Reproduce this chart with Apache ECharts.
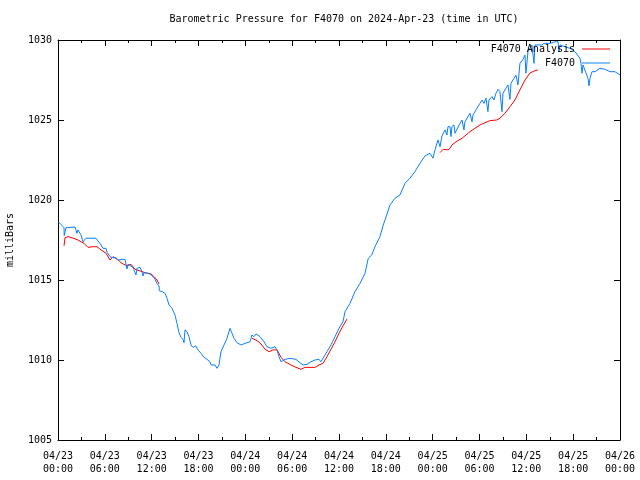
<!DOCTYPE html>
<html><head><meta charset="utf-8">
<script src="https://cdn.jsdelivr.net/npm/echarts@6/dist/echarts.min.js"></script>
<style>html,body{margin:0;padding:0;background:#fff}#c{width:640px;height:480px}</style>
</head><body><div id="c"></div>
<script>
// Hours since 2024-04-23 00:00 UTC
const stationHours = [0,0.26,0.77,0.8,1.02,2.18,2.43,2.56,2.95,3.2,3.59,4.87,5.12,5.51,5.76,6.15,6.28,6.66,7.05,7.43,7.69,8.2,8.58,8.84,8.97,9.22,
9.61,9.86,9.99,10.12,10.5,10.76,10.89,11.02,11.4,11.79,12.17,12.43,12.68,12.94,12.98,13.2,13.36,13.71,13.96,14.22,14.6,14.99,15.24,15.5,15.76,16.01,16.14,16.27,16.53,16.78,17.04,17.29,17.64,17.93,18.32,18.7,19.09,19.47,19.6,20.11,20.37,20.63,20.75,
20.88,21.27,21.65,22.03,22.29,22.55,22.93,23.44,23.96,24.6,24.85,25.11,25.37,25.88,26.39,26.77,27.29,27.8,28.06,28.31,28.57,28.82,29.08,29.72,30.49,31.0,31.39,31.9,32.41,32.92,33.44,33.69,33.95,34.46,34.97,35.49,36.0,36.51,
36.77,37.41,38.05,38.69,39.33,39.75,40.19,40.61,41.25,41.67,42.11,42.53,43.17,43.81,44.45,45.09,45.73,46.37,47.01,47.66,47.87,48.04,48.3,48.68,48.94,49.19,49.58,49.83,49.96,50.22,50.35,50.47,50.73,50.86,51.07,51.5,51.76,52.01,52.14,52.52,52.78,53.04,53.16,53.55,54.06,54.32,54.57,54.83,55.08,55.21,55.6,55.85,56.11,56.37,56.62,56.88,57.01,57.39,57.65,57.9,58.03,58.42,58.67,58.93,59.18,59.57,59.83,59.95,60.21,60.72,60.98,61.11,62.0,62.26,63.03,63.67,64.06,64.18,64.31,64.95,65.59,66.23,66.87,67.0,67.13,67.26,67.51,67.9,68.03,68.16,68.41,68.8,69.43,70.07,70.71,71.35,72.0];
const stationPressure = [1018.63,1018.54,1018.27,1017.77,1018.27,1018.31,1017.92,1018.13,1017.81,1017.39,1017.61,1017.61,1017.44,1017.19,1016.98,1016.98,1016.73,1016.46,1016.39,1016.39,1016.25,1016.29,1016.29,1015.69,1015.98,1015.98,
1015.79,1015.73,1015.31,1015.73,1015.79,1015.52,1015.25,1015.46,1015.42,1015.38,1015.21,1015.04,1014.79,1014.63,1014.33,1014.42,1014.27,1014.17,1013.86,1013.44,1013.23,1012.81,1012.29,1011.71,1011.42,1011.29,1011.08,1011.88,1011.77,1011.46,1010.94,1010.79,1010.88,1010.63,1010.42,1010.17,1010.04,1009.89,1009.69,1009.69,1009.48,1009.69,1010.11,
1010.52,1010.94,1011.36,1011.98,1011.67,1011.36,1011.08,1010.94,1011.04,1011.14,1011.56,1011.46,1011.63,1011.46,1011.14,1010.83,1010.73,1010.83,1010.63,1010.21,1009.89,1009.79,1010.04,1010.11,1010.04,1009.83,1009.69,1009.73,1009.89,1010.0,1010.04,1009.89,1010.11,1010.52,1010.94,1011.46,1011.98,1012.39,
1013.02,1013.54,1014.27,1014.79,1015.42,1016.36,1016.56,1017.08,1017.71,1018.44,1019.06,1019.69,1020.11,1020.31,1021.04,1021.36,1021.77,1022.29,1022.75,1022.92,1023.02,1022.61,1023.13,1023.75,1023.33,1024.0,1024.38,1024.06,1024.58,1024.58,1023.96,1024.58,1024.69,1024.17,1024.38,1024.79,1025.0,1024.38,1024.89,1025.21,1025.42,1024.89,1025.31,1025.63,1026.04,1026.25,1026.04,1026.36,1025.52,1026.25,1026.46,1026.25,1026.67,1026.92,1026.77,1025.52,1026.67,1026.98,1027.19,1026.29,1027.29,1027.61,1027.81,1027.19,1028.54,1028.79,1029.06,1027.92,1029.27,1029.69,1028.54,1029.69,1029.69,1029.79,1029.79,1029.89,1029.89,1029.27,1029.69,1029.58,1029.48,1029.27,1028.86,1028.54,1027.92,1028.44,1028.54,1027.61,1027.13,1027.61,1028.02,1028.02,1028.23,1028.17,1028.02,1028.02,1027.81];

// Analysis runs (null = gap between runs)
const analysisHours = [0.77,0.9,1.28,1.79,2.56,3.33,3.84,4.48,5.0,5.51,6.15,6.66,7.05,7.69,8.2,8.84,9.35,9.86,11.15,11.91,12.3,12.68,12.94,
18.0,
24.85,25.5,26.01,26.52,27.03,27.54,28.06,28.31,28.57,29.08,29.85,30.49,31.13,31.64,32.41,32.92,33.44,33.95,34.46,34.97,35.49,36.0,36.51,37.02,
43.0,
48.94,49.36,49.96,50.22,50.47,50.99,51.76,52.27,52.78,53.42,54.06,54.7,55.34,56.2,56.62,57.26,57.9,58.54,59.18,59.83,60.47,61.11,61.49];
const analysisPressure = [1017.14,1017.64,1017.71,1017.64,1017.5,1017.29,1017.04,1017.08,1017.08,1016.88,1016.67,1016.25,1016.46,1016.25,1016.04,1015.89,1015.98,1015.67,1015.46,1015.38,1015.21,1015.0,1014.75,
null,
1011.36,1011.21,1011.0,1010.67,1010.52,1010.63,1010.63,1010.52,1010.17,1009.89,1009.69,1009.54,1009.42,1009.54,1009.54,1009.54,1009.69,1009.79,1010.21,1010.67,1011.14,1011.67,1012.13,1012.56,
null,
1022.96,1023.17,1023.13,1023.23,1023.44,1023.64,1023.86,1024.06,1024.27,1024.48,1024.69,1024.83,1024.96,1025.0,1025.11,1025.42,1025.83,1026.25,1026.88,1027.5,1027.94,1028.08,1028.13];

const yTicks = [1005,1010,1015,1020,1025,1030];
const seriesNames = ['F4070 Analysis','F4070'];
const titleText = 'Barometric Pressure for F4070 on 2024-Apr-23 (time in UTC)';

const FONT = 'DejaVu Sans Mono';
function fmtX(h){
  const d = 23 + Math.floor(h/24);
  const hh = Math.round(h % 24);
  return '04/' + d + '\n' + (hh<10?'0':'') + hh + ':00';
}
const chart = echarts.init(document.getElementById('c'), null, {renderer:'canvas'});
const xBase = {type:'value', min:0, max:72, interval:6, splitLine:{show:false},
  axisLine:{show:true, onZero:false, lineStyle:{color:'#000', width:1}},
  axisTick:{show:true, inside:true, length:6, lineStyle:{color:'#000'}},
  minorTick:{show:true, splitNumber:2, length:3, lineStyle:{color:'#000'}}};
const yBase = {type:'value', min:1005, max:1030, interval:5, splitLine:{show:false},
  axisLine:{show:true, onZero:false, lineStyle:{color:'#000', width:1}},
  axisTick:{show:true, inside:true, length:6, lineStyle:{color:'#000'}}};
chart.setOption({
  animation:false,
  backgroundColor:'#fff',
  title:{text:titleText, left:339, top:9, textAlign:'center',
    textStyle:{fontFamily:FONT, fontSize:10, fontWeight:'normal', color:'#000'}},
  grid:{left:58, right:20, top:40, bottom:40, containLabel:false, outerBoundsMode:'none'},
  legend:[
    {data:[seriesNames[0]], right:30, top:44, padding:0, orient:'vertical', align:'right', icon:'rect', itemWidth:28, itemHeight:1, itemGap:4,
      textStyle:{fontFamily:FONT, fontSize:10, color:'#000', padding:[0,2,0,0]}},
    {data:[seriesNames[1]], right:30, top:58, padding:0, orient:'vertical', align:'right', icon:'rect', itemWidth:28, itemHeight:1, itemGap:4,
      textStyle:{fontFamily:FONT, fontSize:10, color:'#000', padding:[0,2,0,0]}}
  ],
  xAxis:[
    Object.assign({}, xBase, {position:'bottom', axisLabel:{formatter:fmtX, fontFamily:FONT, fontSize:10, color:'#000', lineHeight:13, margin:10, showMaxLabel:true, showMinLabel:true, hideOverlap:false}}),
    Object.assign({}, xBase, {position:'top', axisLabel:{show:false}})
  ],
  yAxis:[
    Object.assign({}, yBase, {position:'left', name:'milliBars', nameLocation:'middle', nameRotate:90, nameGap:43,
      nameTextStyle:{fontFamily:FONT, fontSize:10, color:'#000'},
      axisLabel:{fontFamily:FONT, fontSize:10, color:'#000', margin:6, formatter:(v)=>String(v)}}),
    Object.assign({}, yBase, {position:'right', axisLabel:{show:false}})
  ],
  series:[
    {name:seriesNames[0], type:'line', showSymbol:false, symbol:'none', connectNulls:false,
      lineStyle:{color:'#ff0000', width:1}, itemStyle:{color:'#ff0000'},
      data: analysisHours.map((h,i)=>[h, analysisPressure[i]===null?'-':analysisPressure[i]])},
    {name:seriesNames[1], type:'line', showSymbol:false, symbol:'none',
      lineStyle:{color:'#0a80ff', width:1}, itemStyle:{color:'#0a80ff'},
      data: stationHours.map((h,i)=>[h, stationPressure[i]])}
  ]
});
</script></body></html>
